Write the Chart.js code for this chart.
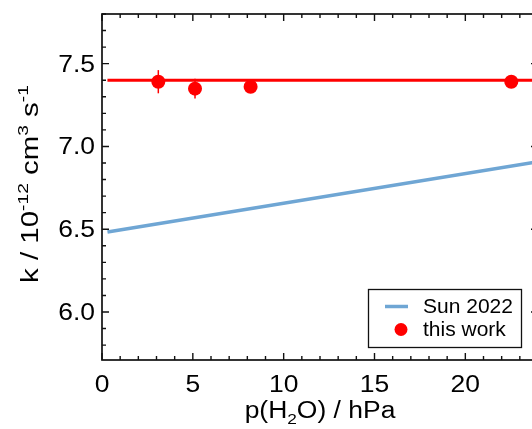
<!DOCTYPE html>
<html>
<head>
<meta charset="utf-8">
<script src="https://cdn.jsdelivr.net/npm/chart.js@4.4.1/dist/chart.umd.min.js"></script>
<style>
  html, body { margin: 0; padding: 0; overflow: hidden; background: #fff; }
  canvas { display: block; }
</style>
</head>
<body>
<canvas id="rate" width="545" height="429"></canvas>
<script>
// Sun 2022 parametrisation (straight line)
const sunX = [0.3, 24];
const sunK = [6.483, 6.908];
// mean of this work
const fitX = [0.3, 24];
const fitK = [7.40, 7.40];
// measurements
const workX = [3.1, 5.12, 8.18, 22.53];
const workK = [7.391, 7.349, 7.361, 7.391];
const workErr = [0.07, 0.06, 0.03, 0.03];

const xTicks = [0, 5, 10, 15, 20];
const yTicks = [6.0, 6.5, 7.0, 7.5];
const xTickLabels = ["0", "5", "10", "15", "20"];
const yTickLabels = ["6.0", "6.5", "7.0", "7.5"];

const FONT = '"Liberation Sans", Arial, sans-serif';
const STRETCH = 1.15;

function toPoints(xs, ys) {
  return xs.map((x, i) => ({ x: x, y: ys[i] }));
}

function stretchText(ctx, text, x, y, align, sx) {
  ctx.save();
  ctx.translate(x, y);
  ctx.scale(sx, 1);
  ctx.textAlign = align;
  ctx.fillText(text, 0, 0);
  ctx.restore();
}

// parts: [text, shift] with shift 0 normal, 1 subscript, -1 superscript
function richText(ctx, parts, size, sx) {
  const small = Math.round(size * 0.64);
  let total = 0;
  parts.forEach((p) => {
    ctx.font = (p[1] ? small : size) + "px " + FONT;
    total += ctx.measureText(p[0]).width;
  });
  ctx.save();
  ctx.scale(sx, 1);
  ctx.textAlign = "left";
  ctx.textBaseline = "alphabetic";
  let x = -total / 2;
  parts.forEach((p) => {
    ctx.font = (p[1] ? small : size) + "px " + FONT;
    let dy = 0;
    if (p[1] === 1) dy = size * 0.25;
    if (p[1] === -1) dy = -size * 0.42;
    ctx.fillText(p[0], x, dy);
    x += ctx.measureText(p[0]).width;
  });
  ctx.restore();
}

const errorBars = {
  id: "errorBars",
  beforeDatasetsDraw(chart) {
    const ctx = chart.ctx;
    const xs = chart.scales.x;
    const ys = chart.scales.y;
    ctx.save();
    ctx.strokeStyle = "#ff0000";
    ctx.lineWidth = 1.5;
    workX.forEach((x, i) => {
      const px = xs.getPixelForValue(x);
      ctx.beginPath();
      ctx.moveTo(px, ys.getPixelForValue(workK[i] - workErr[i]));
      ctx.lineTo(px, ys.getPixelForValue(workK[i] + workErr[i]));
      ctx.stroke();
    });
    ctx.restore();
  },
};

const frame = {
  id: "frame",
  afterDraw(chart) {
    const ctx = chart.ctx;
    const a = chart.chartArea;
    const xs = chart.scales.x;
    const ys = chart.scales.y;
    ctx.save();
    ctx.strokeStyle = "#111";
    ctx.lineWidth = 1.7;
    ctx.strokeRect(a.left, a.top, a.right - a.left, a.bottom - a.top);

    // inward ticks on all four sides
    ctx.lineWidth = 1.4;
    for (let v = 0; v <= 24; v++) {
      const px = xs.getPixelForValue(v);
      const len = v % 5 === 0 ? 7 : 4;
      ctx.beginPath();
      ctx.moveTo(px, a.bottom);
      ctx.lineTo(px, a.bottom - len);
      ctx.moveTo(px, a.top);
      ctx.lineTo(px, a.top + len);
      ctx.stroke();
    }
    for (let i = 58; i <= 78; i++) {
      const py = ys.getPixelForValue(i / 10);
      const len = i % 5 === 0 ? 7 : 4;
      ctx.beginPath();
      ctx.moveTo(a.left, py);
      ctx.lineTo(a.left + len, py);
      ctx.moveTo(a.right, py);
      ctx.lineTo(a.right - len, py);
      ctx.stroke();
    }

    // tick labels
    ctx.fillStyle = "#000";
    ctx.font = "23px " + FONT;
    ctx.textBaseline = "alphabetic";
    xTicks.forEach((v, i) => {
      stretchText(ctx, xTickLabels[i], xs.getPixelForValue(v), 392, "center", STRETCH);
    });
    yTicks.forEach((v, i) => {
      stretchText(ctx, yTickLabels[i], 95, ys.getPixelForValue(v) + 8, "right", STRETCH);
    });

    // axis titles
    ctx.save();
    ctx.translate((a.left + 538) / 2, 418);
    richText(ctx, [["p(H", 0], ["2", 1], ["O) / hPa", 0]], 23, STRETCH);
    ctx.restore();

    ctx.save();
    ctx.translate(38, 184);
    ctx.rotate(-Math.PI / 2);
    richText(ctx, [["k / 10", 0], ["-12", -1], [" cm", 0], ["3", -1], [" s", 0], ["-1", -1]], 23, 1.28);
    ctx.restore();

    // legend box inside the plot
    const ds = chart.data.datasets;
    ctx.fillStyle = "#fff";
    ctx.fillRect(368.5, 289.5, 153, 58);
    ctx.strokeStyle = "#111";
    ctx.lineWidth = 1.3;
    ctx.strokeRect(368.5, 289.5, 153, 58);
    ctx.strokeStyle = ds[2].borderColor;
    ctx.lineWidth = 3.5;
    ctx.beginPath();
    ctx.moveTo(385, 306.5);
    ctx.lineTo(408, 306.5);
    ctx.stroke();
    ctx.fillStyle = ds[0].backgroundColor;
    ctx.beginPath();
    ctx.arc(401, 329.5, 6.5, 0, Math.PI * 2);
    ctx.fill();
    ctx.fillStyle = "#000";
    ctx.font = "21px " + FONT;
    ctx.textAlign = "left";
    ctx.fillText(ds[2].label, 423, 312.5);
    ctx.fillText(ds[0].label, 423, 335.5);
    ctx.restore();
  },
};

new Chart(document.getElementById("rate"), {
  type: "scatter",
  data: {
    datasets: [
      {
        label: "this work",
        data: toPoints(workX, workK),
        backgroundColor: "#ff0000",
        borderWidth: 0,
        pointRadius: 7,
        showLine: false,
        order: 0,
      },
      {
        label: "mean",
        data: toPoints(fitX, fitK),
        borderColor: "#ff0000",
        borderWidth: 3,
        pointRadius: 0,
        showLine: true,
        order: 1,
      },
      {
        label: "Sun 2022",
        data: toPoints(sunX, sunK),
        borderColor: "#6fa6d4",
        borderWidth: 3.5,
        pointRadius: 0,
        showLine: true,
        order: 2,
      },
    ],
  },
  options: {
    responsive: false,
    animation: false,
    devicePixelRatio: 1,
    layout: {
      padding: { left: 102, top: 14, right: 7, bottom: 69 },
    },
    plugins: {
      legend: { display: false },
      tooltip: { enabled: false },
    },
    scales: {
      x: { type: "linear", display: false, min: 0, max: 24 },
      y: { type: "linear", display: false, min: 5.71, max: 7.8 },
    },
  },
  plugins: [errorBars, frame],
});
</script>
</body>
</html>
